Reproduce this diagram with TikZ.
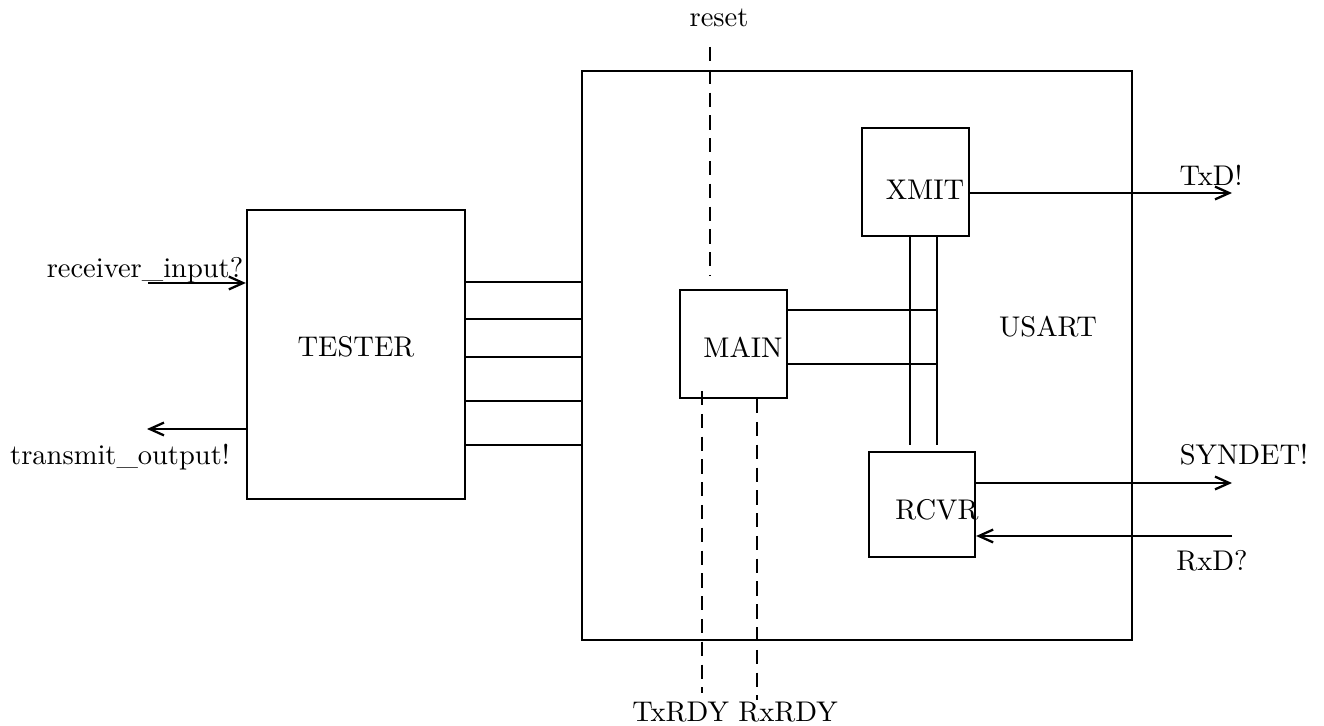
\documentclass[tikz,border=0pt]{standalone}
\usetikzlibrary{arrows.meta,fit}
\begin{document}
\begin{tikzpicture}[x=0.351pt,y=-0.351pt,
  box/.style={draw,line width=0.8pt,inner sep=0pt},
  wire/.style={line width=0.8pt},
  sig/.style={line width=0.8pt,dash pattern=on 5pt off 3pt},
  arr/.style={wire,-{Straight Barb[length=5pt,width=4.5pt]}},
  lbl/.style={inner sep=0pt,font=\fontsize{10}{12}\selectfont}]
\useasboundingbox (0,0) rectangle (1324,726);
% boxes
\node[box,fit={(582,71) (1132,640)}] (usart) {};
\node[box,fit={(247,210) (465,499)}] (tester) {};
\node[box,fit={(680,290) (787,398)}] (main) {};
\node[box,fit={(862,128) (969,236)}] (xmit) {};
\node[box,fit={(869,452) (975,557)}] (rcvr) {};
% texts
\node[lbl] (usartt) at (1048,327) {USART};
\node[lbl] (testert) at (356,347) {TESTER};
\node[lbl] (maint) at (743,347) {MAIN};
\node[lbl] (xmitt) at (925,190) {XMIT};
\node[lbl] (rcvrt) at (937,510) {RCVR};
\node[lbl] (rin) at (145,270) {receiver\_input?};
\node[lbl] (tout) at (120,457) {transmit\_output!};
\node[lbl] (reset) at (719,18) {reset};
\node[lbl] (rdy) at (735,712) {TxRDY RxRDY};
\node[lbl] (txd) at (1211,175) {TxD!};
\node[lbl] (syn) at (1244,455) {SYNDET!};
\node[lbl] (rxd) at (1212,561) {RxD?};
% tester inputs / outputs
\coordinate (rinS) at (148,283);
\draw[arr] (rinS) -- (rinS -| tester.west);
\coordinate (toutE) at (147,429);
\draw[arr] (toutE -| tester.west) -- (toutE);
% tester to usart
\foreach \yy in {282,319,357,401,445} {
  \coordinate (t\yy) at (0,\yy);
  \draw[wire] (t\yy -| tester.east) -- (t\yy -| usart.west);
}
% dashed control lines
\coordinate (resetS) at (710,47);
\coordinate (resetE) at (710,276);
\draw[sig] (resetS) -- (resetE);
\coordinate (txrS) at (702,391);
\coordinate (txrE) at (702,693);
\draw[sig] (txrS) -- (txrE);
\coordinate (rxrE) at (757,700);
\draw[sig] (rxrE |- main.south) -- (rxrE);
% main to bus
\coordinate (m1) at (937,310);
\coordinate (m2) at (937,364);
\draw[wire] (m1 -| main.east) -- (m1);
\draw[wire] (m2 -| main.east) -- (m2);
% xmit to rcvr
\coordinate (v1) at (910,445);
\coordinate (v2) at (937,445);
\draw[wire] (v1 |- xmit.south) -- (v1);
\draw[wire] (v2 |- xmit.south) -- (v2);
% outputs
\coordinate (txdE) at (1232,193);
\draw[arr] (txdE -| xmit.east) -- (txdE);
\coordinate (synE) at (1232,483);
\draw[arr] (synE -| rcvr.east) -- (synE);
\coordinate (rxdS) at (1232,536);
\draw[arr] (rxdS) -- (rxdS -| rcvr.east);
\end{tikzpicture}
\end{document}
